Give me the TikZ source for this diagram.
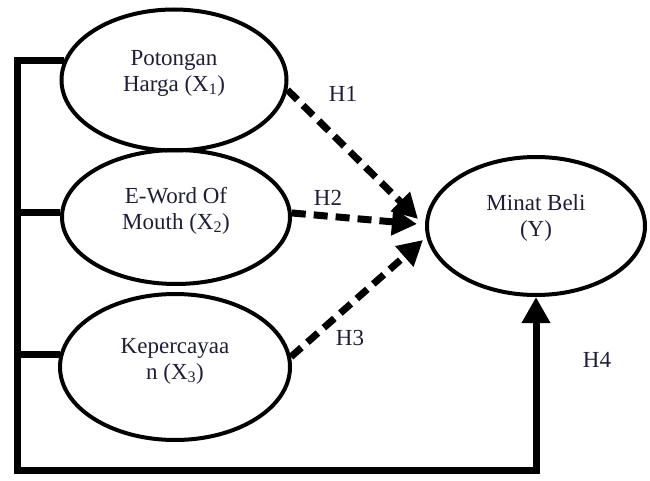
\documentclass[tikz,border=0pt]{standalone}
\usepackage{fontspec}
\setmainfont{Liberation Serif}
\usetikzlibrary{arrows.meta,shapes.geometric}
\definecolor{txt}{RGB}{30,30,55}
\newcommand{\twolines}[3]{\raisebox{#1}[\height][\depth]{\begin{tabular}{@{}c@{}}#2\\#3\end{tabular}}}
\begin{document}
\begin{tikzpicture}[x=1pt,y=-1pt,
  construct/.style={draw, ellipse, line width=4pt, inner sep=0pt, text=txt,
    font=\fontsize{23}{26}\selectfont},
  frame/.style={line width=7pt, line join=miter},
  hypo/.style={line width=7pt, dash pattern=on 14pt off 8pt,
    -{Triangle[length=25pt,width=26pt]}},
  hlabel/.style={text=txt, font=\fontsize{23}{26}\selectfont, inner sep=0pt}]
\useasboundingbox (0,0) rectangle (650,481);

% constructs
\node[construct, minimum width=225pt, minimum height=141pt] (e1) at (174,80)
  {\twolines{7pt}{Potongan}{Harga (X\textsubscript{1})}};
\node[construct, minimum width=228pt, minimum height=134pt] (e2) at (176,217)
  {\twolines{6pt}{E-Word Of}{Mouth (X\textsubscript{2})}};
\node[construct, minimum width=230pt, minimum height=146pt] (e3) at (175,367)
  {\twolines{6pt}{Kepercayaa}{n (X\textsubscript{3})}};
\node[construct, minimum width=218pt, minimum height=138pt] (y) at (536,226)
  {\twolines{8pt}{Minat Beli}{(Y)}};

% arrow tips of the dashed paths
\coordinate (t1) at (418,219);
\coordinate (t2) at (417,224);
\coordinate (t3) at (423,240);
\coordinate (bot) at (17,470);

% hypotheses H1--H3
\draw[hypo] (e1.-5) -- (t1);
\draw[hypo] (e2.2) -- (t2);
\draw[hypo] (e3.5) -- (t3);

% joint path H4
\draw[frame, -{Triangle[length=26pt,width=27pt]}] (e1.170) -| (bot) -| (y.south);
\draw[frame] (e2.178) -- (e2.178 -| bot);
\draw[frame] (e3.174) -- (e3.174 -| bot);

% labels
\node[hlabel] (h1) at (343,94) {H1};
\node[hlabel] (h2) at (328,198) {H2};
\node[hlabel] (h3) at (350,338) {H3};
\node[hlabel] (h4) at (597,360) {H4};
\end{tikzpicture}
\end{document}
